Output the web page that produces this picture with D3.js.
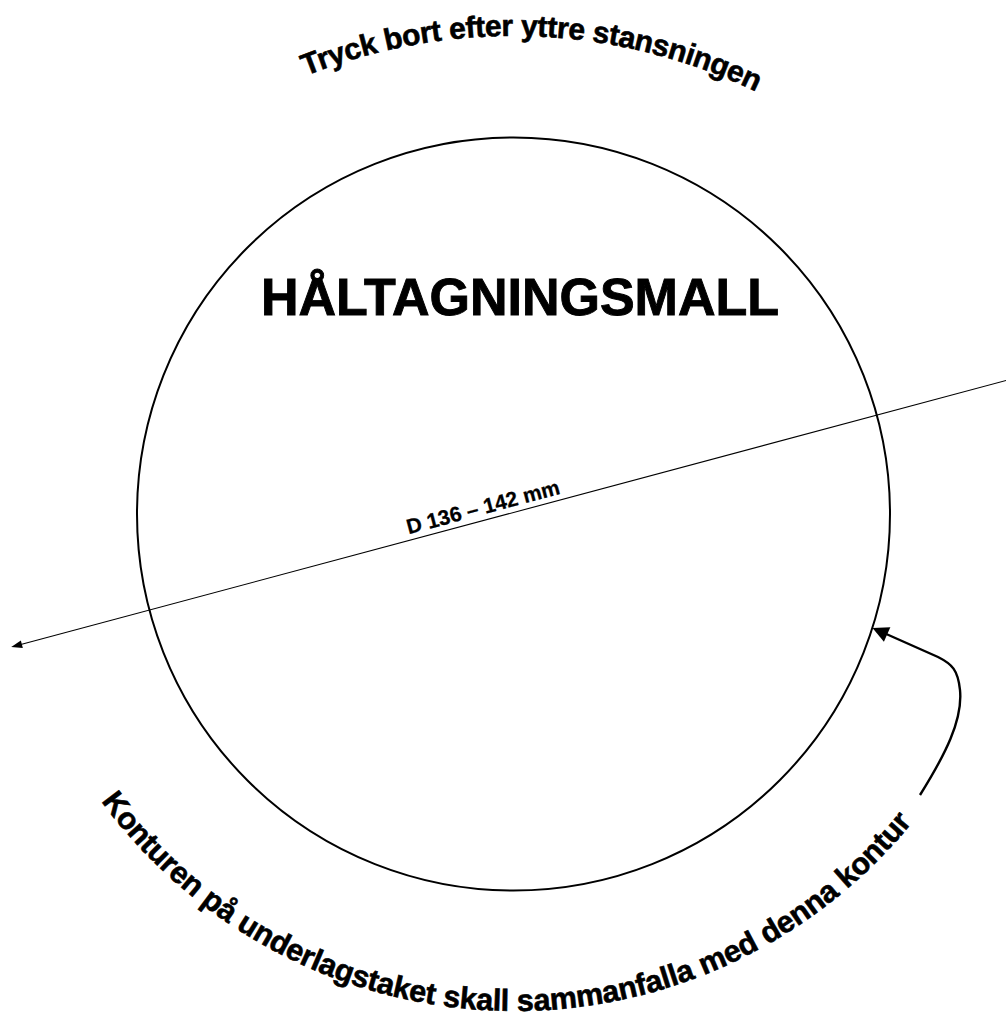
<!DOCTYPE html>
<html>
<head>
<meta charset="utf-8">
<script src="https://cdn.jsdelivr.net/npm/d3@7"></script>
<style>
  html, body { margin: 0; padding: 0; background: #fff; }
  svg { display: block; }
  text { font-family: "Liberation Sans", Arial, Helvetica, sans-serif; font-weight: bold; fill: #000; }
</style>
</head>
<body>
<svg id="chart"></svg>
<script>
// ---- content / values ----
const titleText = ["HÅLTAGNINGSMALL"];
const topArcText = ["Tryck bort efter yttre stansningen"];
const bottomArcText = ["Konturen på underlagstaket skall sammanfalla med denna kontur"];
const diameterRangeMm = [136, 142];
const diameterUnit = ["mm"];
const diameterTiltDeg = [-15];

// ---- layout ----
const W = 1006, H = 1023;
const svg = d3.select("#chart").attr("width", W).attr("height", H);
svg.append("rect").attr("width", W).attr("height", H).attr("fill", "#fff");

// mm -> px scale: the circle represents the upper diameter
const mm = d3.scaleLinear().domain([0, diameterRangeMm[1]]).range([0, 753]);
const cx = 513.5, cy = 514;
const r = mm(diameterRangeMm[1]) / 2;

svg.append("circle")
  .attr("cx", cx).attr("cy", cy).attr("r", r)
  .attr("fill", "none").attr("stroke", "#000").attr("stroke-width", 2);

// title
svg.append("text")
  .attr("x", 520).attr("y", 315)
  .attr("text-anchor", "middle")
  .attr("font-size", 52)
  .attr("stroke", "#000").attr("stroke-width", 0.9)
  .text(titleText[0]);

// arc text helper
const defs = svg.append("defs");
function arcPath(id, ccx, ccy, R, a0, a1, anticlockwise) {
  const p = d3.path();
  p.moveTo(ccx + R * Math.cos(a0), ccy + R * Math.sin(a0));
  p.arc(ccx, ccy, R, a0, a1, anticlockwise);
  defs.append("path").attr("id", id).attr("d", p.toString());
}
const rad = d => d * Math.PI / 180;

// top curved text
arcPath("topArc", 513, 594, 558, rad(-88 - 45), rad(-88 + 45), false);
svg.append("text").attr("font-size", 30)
  .attr("stroke", "#000").attr("stroke-width", 0.6)
  .attr("letter-spacing", -0.4)
  .append("textPath").attr("href", "#topArc")
  .attr("startOffset", "50%").attr("text-anchor", "middle")
  .text(topArcText[0]);

// bottom curved text
arcPath("bottomArc", 515, 498, 513, rad(91.5 + 70), rad(91.5 - 70), true);
svg.append("text").attr("font-size", 30.5)
  .attr("stroke", "#000").attr("stroke-width", 0.6)
  .attr("letter-spacing", -0.2)
  .append("textPath").attr("href", "#bottomArc")
  .attr("startOffset", "50%").attr("text-anchor", "middle")
  .text(bottomArcText[0]);

// diameter line with arrow
const dg = svg.append("g")
  .attr("transform", `translate(${cx},512.5) rotate(${diameterTiltDeg[0]})`);
dg.append("line")
  .attr("x1", -512).attr("y1", 0).attr("x2", 530).attr("y2", 0)
  .attr("stroke", "#000").attr("stroke-width", 1.1);
dg.append("path")
  .attr("d", "M-520,0 L-509,-3.8 L-509,3.8 Z")
  .attr("fill", "#000");
dg.append("text")
  .attr("x", -28).attr("y", -6)
  .attr("text-anchor", "middle")
  .attr("font-size", 21)
  .attr("stroke", "#000").attr("stroke-width", 0.3)
  .text(`D ${diameterRangeMm[0]} – ${diameterRangeMm[1]} ${diameterUnit[0]}`);

// curved pointer arrow on the right
const arrow = d3.path();
arrow.moveTo(920, 795);
arrow.bezierCurveTo(945, 755, 963, 720, 960, 690);
arrow.bezierCurveTo(958, 670, 952, 664, 938, 657);
arrow.lineTo(884, 633);
svg.append("path").attr("d", arrow.toString())
  .attr("fill", "none").attr("stroke", "#000").attr("stroke-width", 2.4);
{
  const tip = [872.5, 628], from = [938, 657];
  const ang = Math.atan2(from[1] - tip[1], from[0] - tip[0]);
  const L = 16, Wd = 8;
  const bx = tip[0] + L * Math.cos(ang), by = tip[1] + L * Math.sin(ang);
  const nx = -Math.sin(ang), ny = Math.cos(ang);
  svg.append("path")
    .attr("d", `M${tip[0]},${tip[1]} L${bx + nx * Wd},${by + ny * Wd} L${bx - nx * Wd},${by - ny * Wd} Z`)
    .attr("fill", "#000");
}
</script>
</body>
</html>
